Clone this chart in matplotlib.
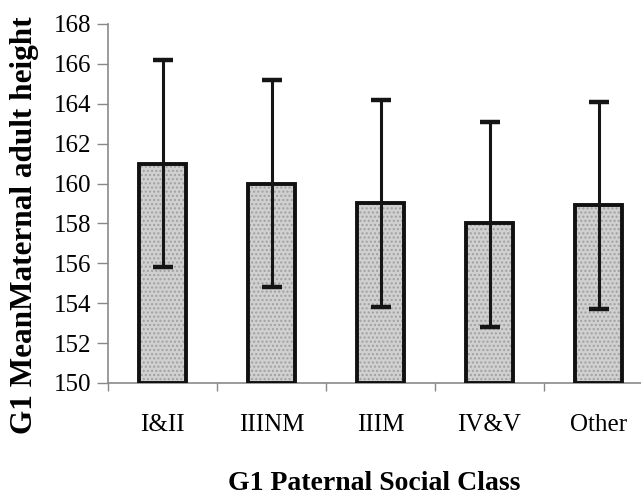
import matplotlib
matplotlib.use("Agg")
import matplotlib.pyplot as plt
import numpy as np

CATEGORIES = ["I&II", "IIINM", "IIIM", "IV&V", "Other"]
MEANS = [161.0, 160.0, 159.0, 158.0, 158.9]
ERR_LOW = [5.2, 5.2, 5.2, 5.2, 5.2]
ERR_HIGH = [5.2, 5.2, 5.2, 5.1, 5.2]
Y_TICKS = [150, 152, 154, 156, 158, 160, 162, 164, 166, 168]

plt.rcParams["font.family"] = ["Liberation Serif", "DejaVu Serif"]

fig = plt.figure(figsize=(6.41, 4.99), dpi=100)
ax = fig.add_axes([108 / 641, 1 - 383 / 499, 545 / 641, (383 - 24) / 499])

x = np.arange(len(CATEGORIES))
width = 0.43
heights = [m - 150 for m in MEANS]

# gray face with a faint stipple, then black outline on top
ax.bar(x, heights, width, bottom=150, color="#d0d0d0", edgecolor="none", zorder=2)
ax.bar(x, heights, width, bottom=150, fill=False, hatch="....",
       edgecolor="#a0a0a0", linewidth=0, zorder=2.5)
ax.bar(x, heights, width, bottom=150, fill=False, edgecolor="#111111",
       linewidth=2.8, zorder=3)
ax.errorbar(x, MEANS, yerr=[ERR_LOW, ERR_HIGH], fmt="none", ecolor="#151515",
            elinewidth=2.2, capsize=7.2, capthick=3.2, zorder=4)

ax.set_xlim(-0.5, len(CATEGORIES) - 0.5)
ax.set_ylim(150, 168)
ax.set_yticks(Y_TICKS)
ax.set_yticklabels([str(t) for t in Y_TICKS], fontsize=18, color="#000000")

ax.set_xticks(np.arange(len(CATEGORIES) + 1) - 0.5)
ax.set_xticklabels([])
ax.set_xticks(x, minor=True)
ax.set_xticklabels(CATEGORIES, minor=True, fontsize=18, color="#000000")
ax.tick_params(axis="x", which="minor", length=0, pad=22)
ax.tick_params(axis="x", which="major", length=6, color="#888888", width=1)
ax.tick_params(axis="y", length=8, color="#888888", width=1, pad=4)

for side in ["top", "right"]:
    ax.spines[side].set_visible(False)
for side in ["left", "bottom"]:
    ax.spines[side].set_color("#8a8a8a")
    ax.spines[side].set_linewidth(1.2)

fig.text(25 / 641, 1 - 225 / 499, "G1 MeanMaternal adult height", rotation=90,
         ha="center", va="center", fontsize=22.5, fontweight="bold", color="#000000")
fig.text(374 / 641, 1 - 484 / 499, "G1 Paternal Social Class",
         ha="center", va="center", fontsize=20, fontweight="bold", color="#000000")

fig.savefig("out.png", dpi=100)
